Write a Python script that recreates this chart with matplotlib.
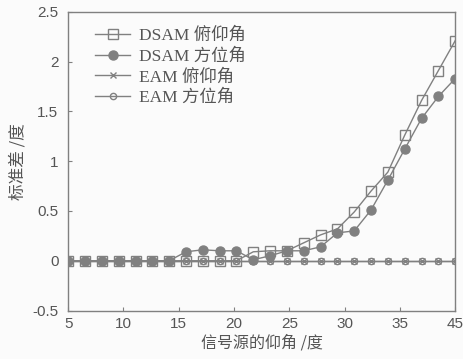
import matplotlib
matplotlib.use("Agg")
import matplotlib.pyplot as plt

plt.rcParams["font.family"] = ["Liberation Sans", "Noto Sans CJK SC"]

# 信号源仰角采样点（横轴单位）
elev = [5.0, 6.52, 8.04, 9.57, 11.09, 12.61, 14.13, 15.65, 17.17, 18.70, 20.22, 21.74,
        23.26, 24.78, 26.30, 27.83, 29.35, 30.87, 32.39, 33.91, 35.43, 36.96, 38.48, 40.0]

dsam_pitch = [0, 0, 0, 0, 0, 0, 0, 0, 0, 0, 0, 0.09,
              0.10, 0.10, 0.18, 0.26, 0.32, 0.49, 0.70, 0.89, 1.26, 1.61, 1.91, 2.21]
dsam_azim = [0, 0, 0, 0, 0, 0, 0, 0.09, 0.11, 0.10, 0.10, 0.01,
             0.05, 0.10, 0.10, 0.14, 0.28, 0.30, 0.51, 0.81, 1.12, 1.43, 1.65, 1.83]
eam_pitch = [0] * 24
eam_azim = [0] * 24

xticks = [5, 10, 15, 20, 25, 30, 35, 40]
xticklabels = ["5", "10", "15", "20", "25", "30", "35", "45"]
yticks = [-0.5, 0, 0.5, 1, 1.5, 2, 2.5]
yticklabels = ["-0.5", "0", "0.5", "1", "1.5", "2", "2.5"]

line_c = "#808080"
text_c = "#555555"

fig = plt.figure(figsize=(4.64, 3.59), dpi=100, facecolor="#fbfbfb")
ax = fig.add_axes([0.147, 0.135, 0.834, 0.832], facecolor="#fbfbfb")

ax.plot(elev, dsam_pitch, color=line_c, lw=1.0, marker="s", ms=6.5,
        mfc="none", mec=line_c, mew=1.0, label="DSAM 俯仰角")
ax.plot(elev, dsam_azim, color=line_c, lw=1.0, marker="o", ms=6.5,
        mfc=line_c, mec=line_c, label="DSAM 方位角")
ax.plot(elev, eam_pitch, color=line_c, lw=1.0, marker="x", ms=5,
        mec=line_c, mew=1.0, label="EAM 俯仰角")
ax.plot(elev, eam_azim, color=line_c, lw=1.0, marker="o", ms=4.5,
        mfc="none", mec=line_c, mew=1.0, label="EAM 方位角")

ax.set_xlim(5, 40)
ax.set_ylim(-0.5, 2.5)
ax.set_xticks(xticks)
ax.set_xticklabels(xticklabels)
ax.set_yticks(yticks)
ax.set_yticklabels(yticklabels)
ax.tick_params(direction="in", length=3, color=line_c, labelcolor=text_c,
               labelsize=11, top=False, right=False)
ax.tick_params(axis="y", pad=7)
ax.tick_params(axis="x", pad=5)
for s in ax.spines.values():
    s.set_color(line_c)
    s.set_linewidth(1.0)

ax.set_xlabel("信号源的仰角 /度", family=["Noto Sans CJK SC"], fontsize=11.5,
              color=text_c, labelpad=2)
ax.set_ylabel("标准差 /度", family=["Noto Sans CJK SC"], fontsize=12,
              color=text_c, labelpad=4)

leg = ax.legend(loc="upper left", bbox_to_anchor=(0.03, 1.0), frameon=False,
                handlelength=2.0, handletextpad=0.5, labelspacing=0.25,
                prop={"family": ["Liberation Serif", "Noto Sans CJK SC"], "size": 12.5})
for t in leg.get_texts():
    t.set_color(text_c)

fig.savefig("out.png", dpi=100, facecolor=fig.get_facecolor())
